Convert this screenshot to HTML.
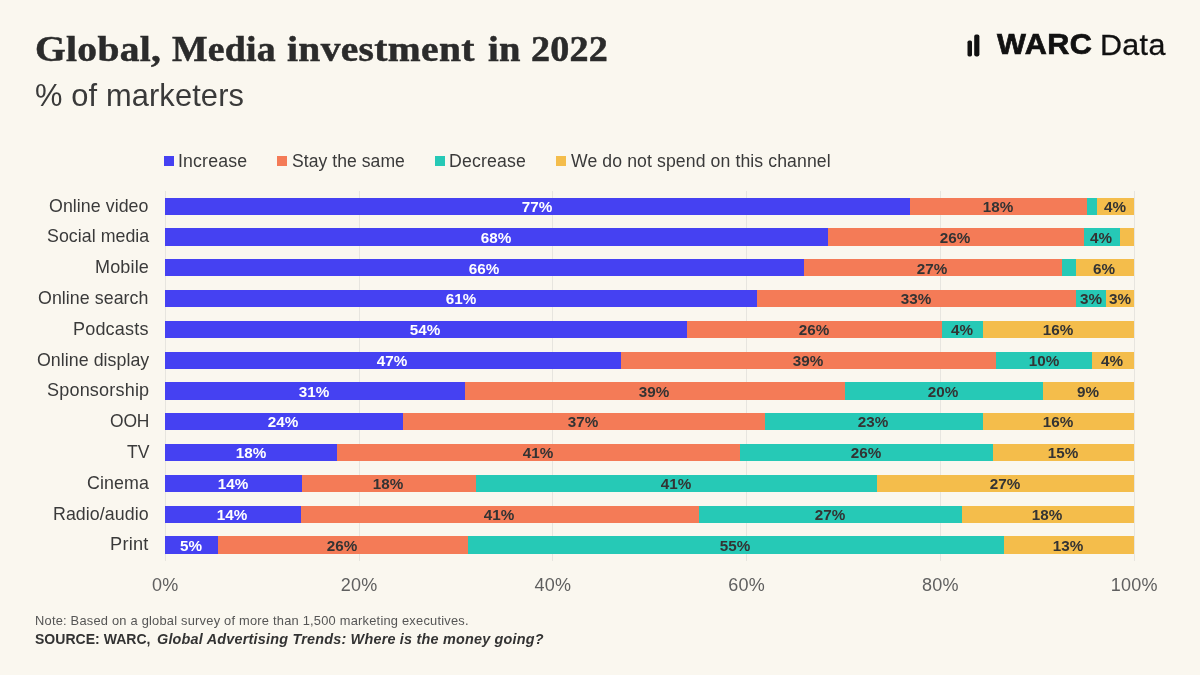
<!DOCTYPE html><html><head><meta charset="utf-8"><title>Global, Media investment in 2022</title><style>
html,body{margin:0;padding:0;}
body{width:1200px;height:675px;background:#FAF7EF;position:relative;overflow:hidden;font-family:"Liberation Sans",sans-serif;color:#3a3a3a;}
.t{position:absolute;white-space:nowrap;line-height:1;transform-origin:0 50%;}
.seg{position:absolute;height:17.30px;}
.bl{position:absolute;font-weight:bold;font-size:15.4px;line-height:17px;white-space:nowrap;transform:translateX(-50%) scaleX(0.99);}
.grid{position:absolute;width:1px;background:#e7e5df;top:190.5px;height:370.5px;}
.ax{position:absolute;font-size:18px;line-height:1;color:#5f5f5f;letter-spacing:0.25px;transform:translateX(-50%);white-space:nowrap;top:575.8px;}
.lg{position:absolute;width:10px;height:10px;top:156px;}
.lt{position:absolute;font-size:17.5px;line-height:1;top:152.0px;white-space:nowrap;transform-origin:0 50%;}
</style></head><body>
<h1 style="margin:0;position:absolute;left:0;top:0;font-family:'Liberation Serif',serif;font-weight:bold;font-size:35.5px;color:#2b2b2b;-webkit-text-stroke:0.5px #2b2b2b;">
<span class="t" id="title0" style="left:35.20px;top:32.3px;letter-spacing:0.286px;transform:scaleX(1.1131);">Global,</span>
<span class="t" id="title1" style="left:172.20px;top:32.3px;letter-spacing:0.202px;transform:scaleX(1.0631);">Media</span>
<span class="t" id="title2" style="left:287.20px;top:32.3px;letter-spacing:0.298px;transform:scaleX(1.1136);">investment</span>
<span class="t" id="title3" style="left:487.70px;top:32.3px;letter-spacing:0.207px;transform:scaleX(1.0859);">in</span>
<span class="t" id="title4" style="left:531.20px;top:32.3px;letter-spacing:0.213px;transform:scaleX(1.0730);">2022</span>
</h1>
<div class="t" id="sub" style="left:35.10px;top:79.5px;font-size:30.5px;color:#3a3a3a;letter-spacing:0.127px;transform:scaleX(1.0107);">% of marketers</div>
<svg style="position:absolute;left:960px;top:30.2px" width="30" height="30" viewBox="0 0 30 30"><rect x="7.5" y="10.6" width="4.5" height="15.8" rx="1.6" fill="#111"/><rect x="14.2" y="4.6" width="5.2" height="21.8" rx="1.8" fill="#111"/></svg>
<div class="t" id="warc" style="left:996.60px;top:30.4px;font-size:29.2px;font-weight:bold;color:#111;-webkit-text-stroke:0.7px #111;letter-spacing:0.437px;transform:scaleX(1.0480);">WARC</div>
<div class="t" id="data" style="left:1100.00px;top:29.7px;font-size:29.5px;color:#111;-webkit-text-stroke:0.3px #111;letter-spacing:0.327px;transform:scaleX(1.0325);">Data</div>
<div class="lg" style="left:164px;background:#4541F2"></div>
<div class="lt" id="lg0" style="left:177.80px;top:151px;font-size:17.5px;line-height:20px;letter-spacing:0.154px;transform:scaleX(1.0124);">Increase</div>
<div class="lg" style="left:277.4px;background:#F47B57"></div>
<div class="lt" id="lg1" style="left:291.50px;top:151px;font-size:17.5px;line-height:20px;letter-spacing:0.047px;transform:scaleX(1.0037);">Stay the same</div>
<div class="lg" style="left:434.8px;background:#26C9B6"></div>
<div class="lt" id="lg2" style="left:449.20px;top:151px;font-size:17.5px;line-height:20px;letter-spacing:0.163px;transform:scaleX(1.0117);">Decrease</div>
<div class="lg" style="left:556px;background:#F4BD4B"></div>
<div class="lt" id="lg3" style="left:571.00px;top:151px;font-size:17.5px;line-height:20px;letter-spacing:0.100px;transform:scaleX(1.0082);">We do not spend on this channel</div>
<div class="grid" style="left:164.8px"></div>
<div class="ax" style="left:165.3px">0%</div>
<div class="grid" style="left:358.6px"></div>
<div class="ax" style="left:359.1px">20%</div>
<div class="grid" style="left:552.4px"></div>
<div class="ax" style="left:552.9px">40%</div>
<div class="grid" style="left:746.1px"></div>
<div class="ax" style="left:746.6px">60%</div>
<div class="grid" style="left:939.9px"></div>
<div class="ax" style="left:940.4px">80%</div>
<div class="grid" style="left:1133.7px"></div>
<div class="ax" style="left:1134.2px">100%</div>
<div class="t" id="cat0" style="left:49.30px;top:196px;font-size:17.7px;line-height:20px;letter-spacing:0.049px;transform:scaleX(1.0060);">Online video</div>
<div class="seg" style="left:165.3px;top:197.60px;width:745.0px;background:#4541F2"></div>
<div class="bl" style="left:537.0px;top:198px;color:#fff">77%</div>
<div class="seg" style="left:910.3px;top:197.60px;width:176.3px;background:#F47B57"></div>
<div class="bl" style="left:997.6px;top:198px;color:#333">18%</div>
<div class="seg" style="left:1086.6px;top:197.60px;width:10.4px;background:#26C9B6"></div>
<div class="seg" style="left:1097.0px;top:197.60px;width:37.2px;background:#F4BD4B"></div>
<div class="bl" style="left:1114.8px;top:198px;color:#333">4%</div>
<div class="t" id="cat1" style="left:46.50px;top:226px;font-size:17.7px;line-height:20px;letter-spacing:0.043px;transform:scaleX(1.0051);">Social media</div>
<div class="seg" style="left:165.3px;top:228.39px;width:662.5px;background:#4541F2"></div>
<div class="bl" style="left:495.7px;top:229px;color:#fff">68%</div>
<div class="seg" style="left:827.8px;top:228.39px;width:255.8px;background:#F47B57"></div>
<div class="bl" style="left:954.9px;top:229px;color:#333">26%</div>
<div class="seg" style="left:1083.6px;top:228.39px;width:36.7px;background:#26C9B6"></div>
<div class="bl" style="left:1101.1px;top:229px;color:#333">4%</div>
<div class="seg" style="left:1120.3px;top:228.39px;width:13.9px;background:#F4BD4B"></div>
<div class="t" id="cat2" style="left:94.80px;top:257px;font-size:17.7px;line-height:20px;letter-spacing:0.155px;transform:scaleX(1.0181);">Mobile</div>
<div class="seg" style="left:165.3px;top:259.18px;width:638.9px;background:#4541F2"></div>
<div class="bl" style="left:483.9px;top:260px;color:#fff">66%</div>
<div class="seg" style="left:804.2px;top:259.18px;width:258.0px;background:#F47B57"></div>
<div class="bl" style="left:932.4px;top:260px;color:#333">27%</div>
<div class="seg" style="left:1062.2px;top:259.18px;width:14.0px;background:#26C9B6"></div>
<div class="seg" style="left:1076.2px;top:259.18px;width:58.0px;background:#F4BD4B"></div>
<div class="bl" style="left:1104.4px;top:260px;color:#333">6%</div>
<div class="t" id="cat3" style="left:38.30px;top:288px;font-size:17.7px;line-height:20px;letter-spacing:0.052px;transform:scaleX(1.0062);">Online search</div>
<div class="seg" style="left:165.3px;top:289.97px;width:592.1px;background:#4541F2"></div>
<div class="bl" style="left:460.6px;top:290px;color:#fff">61%</div>
<div class="seg" style="left:757.4px;top:289.97px;width:318.8px;background:#F47B57"></div>
<div class="bl" style="left:916.0px;top:290px;color:#333">33%</div>
<div class="seg" style="left:1076.2px;top:289.97px;width:30.1px;background:#26C9B6"></div>
<div class="bl" style="left:1090.5px;top:290px;color:#333">3%</div>
<div class="seg" style="left:1106.3px;top:289.97px;width:27.9px;background:#F4BD4B"></div>
<div class="bl" style="left:1119.5px;top:290px;color:#333">3%</div>
<div class="t" id="cat4" style="left:73.20px;top:319px;font-size:17.7px;line-height:20px;letter-spacing:0.174px;transform:scaleX(1.0195);">Podcasts</div>
<div class="seg" style="left:165.3px;top:320.76px;width:521.8px;background:#4541F2"></div>
<div class="bl" style="left:425.4px;top:321px;color:#fff">54%</div>
<div class="seg" style="left:687.1px;top:320.76px;width:254.8px;background:#F47B57"></div>
<div class="bl" style="left:813.7px;top:321px;color:#333">26%</div>
<div class="seg" style="left:941.9px;top:320.76px;width:41.5px;background:#26C9B6"></div>
<div class="bl" style="left:961.9px;top:321px;color:#333">4%</div>
<div class="seg" style="left:983.4px;top:320.76px;width:150.8px;background:#F4BD4B"></div>
<div class="bl" style="left:1058.0px;top:321px;color:#333">16%</div>
<div class="t" id="cat5" style="left:36.50px;top:350px;font-size:17.7px;line-height:20px;letter-spacing:0.042px;transform:scaleX(1.0054);">Online display</div>
<div class="seg" style="left:165.3px;top:351.55px;width:455.3px;background:#4541F2"></div>
<div class="bl" style="left:392.2px;top:352px;color:#fff">47%</div>
<div class="seg" style="left:620.6px;top:351.55px;width:375.8px;background:#F47B57"></div>
<div class="bl" style="left:807.7px;top:352px;color:#333">39%</div>
<div class="seg" style="left:996.4px;top:351.55px;width:95.7px;background:#26C9B6"></div>
<div class="bl" style="left:1043.5px;top:352px;color:#333">10%</div>
<div class="seg" style="left:1092.1px;top:351.55px;width:42.1px;background:#F4BD4B"></div>
<div class="bl" style="left:1112.4px;top:352px;color:#333">4%</div>
<div class="t" id="cat6" style="left:46.50px;top:380px;font-size:17.7px;line-height:20px;letter-spacing:0.177px;transform:scaleX(1.0202);">Sponsorship</div>
<div class="seg" style="left:165.3px;top:382.34px;width:299.7px;background:#4541F2"></div>
<div class="bl" style="left:314.3px;top:383px;color:#fff">31%</div>
<div class="seg" style="left:465.0px;top:382.34px;width:379.7px;background:#F47B57"></div>
<div class="bl" style="left:654.1px;top:383px;color:#333">39%</div>
<div class="seg" style="left:844.7px;top:382.34px;width:198.0px;background:#26C9B6"></div>
<div class="bl" style="left:942.9px;top:383px;color:#333">20%</div>
<div class="seg" style="left:1042.7px;top:382.34px;width:91.5px;background:#F4BD4B"></div>
<div class="bl" style="left:1087.7px;top:383px;color:#333">9%</div>
<div class="t" id="cat7" style="left:109.60px;top:411px;font-size:17.7px;line-height:20px;letter-spacing:-0.185px;transform:scaleX(0.9864);">OOH</div>
<div class="seg" style="left:165.3px;top:413.13px;width:237.8px;background:#4541F2"></div>
<div class="bl" style="left:283.4px;top:413px;color:#fff">24%</div>
<div class="seg" style="left:403.1px;top:413.13px;width:361.8px;background:#F47B57"></div>
<div class="bl" style="left:583.2px;top:413px;color:#333">37%</div>
<div class="seg" style="left:764.9px;top:413.13px;width:218.4px;background:#26C9B6"></div>
<div class="bl" style="left:873.3px;top:413px;color:#333">23%</div>
<div class="seg" style="left:983.3px;top:413.13px;width:150.9px;background:#F4BD4B"></div>
<div class="bl" style="left:1058.0px;top:413px;color:#333">16%</div>
<div class="t" id="cat8" style="left:126.50px;top:442px;font-size:17.7px;line-height:20px;letter-spacing:-0.078px;transform:scaleX(0.9932);">TV</div>
<div class="seg" style="left:165.3px;top:443.92px;width:172.1px;background:#4541F2"></div>
<div class="bl" style="left:250.5px;top:444px;color:#fff">18%</div>
<div class="seg" style="left:337.4px;top:443.92px;width:402.2px;background:#F47B57"></div>
<div class="bl" style="left:537.7px;top:444px;color:#333">41%</div>
<div class="seg" style="left:739.6px;top:443.92px;width:253.4px;background:#26C9B6"></div>
<div class="bl" style="left:865.5px;top:444px;color:#333">26%</div>
<div class="seg" style="left:993.0px;top:443.92px;width:141.2px;background:#F4BD4B"></div>
<div class="bl" style="left:1062.8px;top:444px;color:#333">15%</div>
<div class="t" id="cat9" style="left:86.90px;top:473px;font-size:17.7px;line-height:20px;letter-spacing:0.078px;transform:scaleX(1.0078);">Cinema</div>
<div class="seg" style="left:165.3px;top:474.71px;width:136.6px;background:#4541F2"></div>
<div class="bl" style="left:232.8px;top:475px;color:#fff">14%</div>
<div class="seg" style="left:301.9px;top:474.71px;width:174.4px;background:#F47B57"></div>
<div class="bl" style="left:388.3px;top:475px;color:#333">18%</div>
<div class="seg" style="left:476.3px;top:474.71px;width:400.4px;background:#26C9B6"></div>
<div class="bl" style="left:675.7px;top:475px;color:#333">41%</div>
<div class="seg" style="left:876.7px;top:474.71px;width:257.5px;background:#F4BD4B"></div>
<div class="bl" style="left:1004.7px;top:475px;color:#333">27%</div>
<div class="t" id="cat10" style="left:53.20px;top:504px;font-size:17.7px;line-height:20px;letter-spacing:0.054px;transform:scaleX(1.0063);">Radio/audio</div>
<div class="seg" style="left:165.3px;top:505.50px;width:135.8px;background:#4541F2"></div>
<div class="bl" style="left:232.4px;top:506px;color:#fff">14%</div>
<div class="seg" style="left:301.1px;top:505.50px;width:398.1px;background:#F47B57"></div>
<div class="bl" style="left:499.4px;top:506px;color:#333">41%</div>
<div class="seg" style="left:699.2px;top:505.50px;width:262.8px;background:#26C9B6"></div>
<div class="bl" style="left:829.8px;top:506px;color:#333">27%</div>
<div class="seg" style="left:962.0px;top:505.50px;width:172.2px;background:#F4BD4B"></div>
<div class="bl" style="left:1047.3px;top:506px;color:#333">18%</div>
<div class="t" id="cat11" style="left:110.20px;top:534px;font-size:17.7px;line-height:20px;letter-spacing:0.216px;transform:scaleX(1.0306);">Print</div>
<div class="seg" style="left:165.3px;top:536.29px;width:53.0px;background:#4541F2"></div>
<div class="bl" style="left:191.0px;top:537px;color:#fff">5%</div>
<div class="seg" style="left:218.3px;top:536.29px;width:249.5px;background:#F47B57"></div>
<div class="bl" style="left:342.2px;top:537px;color:#333">26%</div>
<div class="seg" style="left:467.8px;top:536.29px;width:536.2px;background:#26C9B6"></div>
<div class="bl" style="left:735.1px;top:537px;color:#333">55%</div>
<div class="seg" style="left:1004.0px;top:536.29px;width:130.2px;background:#F4BD4B"></div>
<div class="bl" style="left:1068.3px;top:537px;color:#333">13%</div>
<div class="t" id="note" style="left:34.70px;top:615.0px;font-size:12.4px;color:#555;letter-spacing:0.209px;transform:scaleX(1.0382);">Note: Based on a global survey of more than 1,500 marketing executives.</div>
<div style="position:absolute;left:0;top:0;font-size:14px;font-weight:bold;color:#333;">
<span class="t" id="src" style="left:34.90px;top:631.9px;letter-spacing:0.014px;transform:scaleX(1.0016);">SOURCE: WARC,</span>
<span class="t" id="src2" style="left:156.50px;top:631.9px;letter-spacing:0.198px;transform:scaleX(1.0290);"><i>Global Advertising Trends: Where is the money going?</i></span>
</div>
</body></html>
